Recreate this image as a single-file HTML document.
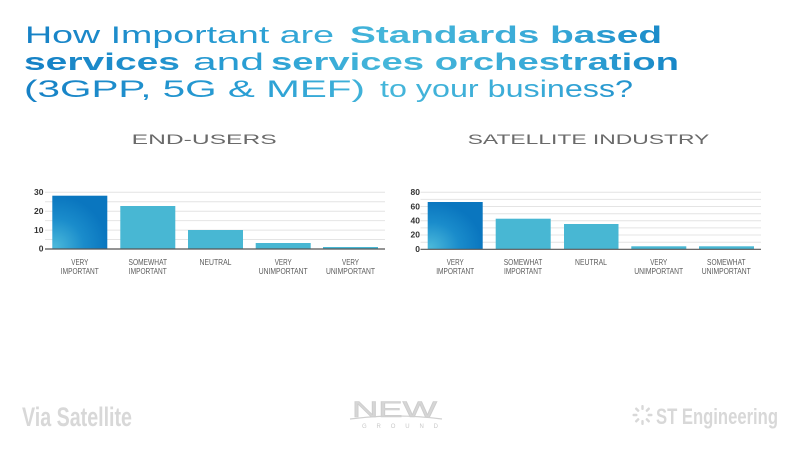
<!DOCTYPE html>
<html>
<head>
<meta charset="utf-8">
<style>
  html, body { margin: 0; padding: 0; background: #ffffff; }
  body { width: 800px; height: 451px; overflow: hidden; }
  svg { display: block; }
  .t { font-family: "Liberation Sans", sans-serif; }
  .n { font-family: "Liberation Sans Narrow", "Liberation Sans", sans-serif; }
</style>
</head>
<body>
<svg width="800" height="451" viewBox="0 0 800 451" xmlns="http://www.w3.org/2000/svg">
  <defs>
    <linearGradient id="tg" gradientUnits="userSpaceOnUse" x1="20" y1="0" x2="685" y2="0">
      <stop offset="0" stop-color="#1580c5"/>
      <stop offset="0.35" stop-color="#2a9fd4"/>
      <stop offset="0.55" stop-color="#45b6da"/>
      <stop offset="0.8" stop-color="#38a9d7"/>
      <stop offset="1" stop-color="#1484c6"/>
    </linearGradient>
    <radialGradient id="bg1" cx="0.05" cy="0.95" r="0.95" fx="0.05" fy="0.95">
      <stop offset="0" stop-color="#4ab8da"/>
      <stop offset="0.55" stop-color="#1a8ccb"/>
      <stop offset="1" stop-color="#0a76bf"/>
    </radialGradient>
  </defs>

  <!-- Title -->
  <g class="t" font-size="24.5" fill="url(#tg)">
    <text x="25" y="43" textLength="309" lengthAdjust="spacingAndGlyphs">How Important are</text>
    <text x="350" y="43" font-weight="bold" textLength="312" lengthAdjust="spacingAndGlyphs">Standards based</text>
    <text x="24" y="70" font-weight="bold" textLength="156" lengthAdjust="spacingAndGlyphs">services</text>
    <text x="193" y="70" textLength="71" lengthAdjust="spacingAndGlyphs">and</text>
    <text x="271" y="70" font-weight="bold" textLength="408" lengthAdjust="spacingAndGlyphs">services orchestration</text>
    <text x="24" y="97" textLength="341" lengthAdjust="spacingAndGlyphs">(3GPP, 5G &amp; MEF)</text>
    <text x="380" y="97" textLength="253" lengthAdjust="spacingAndGlyphs">to your business?</text>
  </g>

  <!-- Subtitles -->
  <g class="t" font-size="14" fill="#6a6a6a">
    <text x="131.7" y="144" textLength="145" lengthAdjust="spacingAndGlyphs">END-USERS</text>
    <text x="467.7" y="144" textLength="241.6" lengthAdjust="spacingAndGlyphs">SATELLITE INDUSTRY</text>
  </g>

  <!-- Left chart gridlines -->
  <g stroke="#e4e4e4" stroke-width="1">
    <line x1="45" y1="192.3" x2="385" y2="192.3"/>
    <line x1="45" y1="201.75" x2="385" y2="201.75"/>
    <line x1="45" y1="211.2" x2="385" y2="211.2"/>
    <line x1="45" y1="220.65" x2="385" y2="220.65"/>
    <line x1="45" y1="230.1" x2="385" y2="230.1"/>
    <line x1="45" y1="239.55" x2="385" y2="239.55"/>
  </g>
  <!-- Left bars -->
  <rect x="52.3" y="195.7" width="55" height="53.3" fill="url(#bg1)"/>
  <rect x="120.3" y="206" width="55" height="43" fill="#48b7d3"/>
  <rect x="188" y="230" width="55" height="19" fill="#48b7d3"/>
  <rect x="255.7" y="243" width="55" height="6" fill="#48b7d3"/>
  <rect x="323" y="247" width="55" height="2" fill="#48b7d3"/>
  <line x1="45" y1="249" x2="385" y2="249" stroke="#555" stroke-width="1.2"/>
  <!-- Left ticks -->
  <g class="t" font-size="8.5" font-weight="bold" fill="#333" text-anchor="end">
    <text x="43.5" y="195">30</text>
    <text x="43.5" y="214">20</text>
    <text x="43.5" y="233">10</text>
    <text x="43.5" y="251.5">0</text>
  </g>
  <!-- Left category labels -->
  <g class="n" font-size="8" fill="#5a5a5a" text-anchor="middle">
    <text x="79.8" y="265" textLength="17" lengthAdjust="spacingAndGlyphs">VERY</text>
    <text x="79.8" y="274" textLength="38" lengthAdjust="spacingAndGlyphs">IMPORTANT</text>
    <text x="147.8" y="265" textLength="38.5" lengthAdjust="spacingAndGlyphs">SOMEWHAT</text>
    <text x="147.8" y="274" textLength="38" lengthAdjust="spacingAndGlyphs">IMPORTANT</text>
    <text x="215.5" y="265" textLength="32" lengthAdjust="spacingAndGlyphs">NEUTRAL</text>
    <text x="283.2" y="265" textLength="17" lengthAdjust="spacingAndGlyphs">VERY</text>
    <text x="283.2" y="274" textLength="49" lengthAdjust="spacingAndGlyphs">UNIMPORTANT</text>
    <text x="350.5" y="265" textLength="17" lengthAdjust="spacingAndGlyphs">VERY</text>
    <text x="350.5" y="274" textLength="49" lengthAdjust="spacingAndGlyphs">UNIMPORTANT</text>
  </g>

  <!-- Right chart gridlines -->
  <g stroke="#e4e4e4" stroke-width="1">
    <line x1="420.5" y1="192.3" x2="761" y2="192.3"/>
    <line x1="420.5" y1="199.4" x2="761" y2="199.4"/>
    <line x1="420.5" y1="206.55" x2="761" y2="206.55"/>
    <line x1="420.5" y1="213.7" x2="761" y2="213.7"/>
    <line x1="420.5" y1="220.8" x2="761" y2="220.8"/>
    <line x1="420.5" y1="227.9" x2="761" y2="227.9"/>
    <line x1="420.5" y1="235.05" x2="761" y2="235.05"/>
    <line x1="420.5" y1="242.2" x2="761" y2="242.2"/>
  </g>
  <!-- Right bars -->
  <rect x="427.7" y="202" width="55" height="47.3" fill="url(#bg1)"/>
  <rect x="495.7" y="218.7" width="55" height="30.6" fill="#48b7d3"/>
  <rect x="564" y="224" width="54.5" height="25.3" fill="#48b7d3"/>
  <rect x="631.3" y="246.3" width="55" height="3" fill="#48b7d3"/>
  <rect x="699" y="246.3" width="55" height="3" fill="#48b7d3"/>
  <line x1="420.5" y1="249.3" x2="761" y2="249.3" stroke="#555" stroke-width="1.2"/>
  <!-- Right ticks -->
  <g class="t" font-size="8.5" font-weight="bold" fill="#333" text-anchor="end">
    <text x="420" y="195">80</text>
    <text x="420" y="209.3">60</text>
    <text x="420" y="223.5">40</text>
    <text x="420" y="237.7">20</text>
    <text x="420" y="251.8">0</text>
  </g>
  <!-- Right category labels -->
  <g class="n" font-size="8" fill="#5a5a5a" text-anchor="middle">
    <text x="455.2" y="265" textLength="17" lengthAdjust="spacingAndGlyphs">VERY</text>
    <text x="455.2" y="274" textLength="38" lengthAdjust="spacingAndGlyphs">IMPORTANT</text>
    <text x="523" y="265" textLength="38.5" lengthAdjust="spacingAndGlyphs">SOMEWHAT</text>
    <text x="523" y="274" textLength="38" lengthAdjust="spacingAndGlyphs">IMPORTANT</text>
    <text x="591" y="265" textLength="32" lengthAdjust="spacingAndGlyphs">NEUTRAL</text>
    <text x="658.7" y="265" textLength="17" lengthAdjust="spacingAndGlyphs">VERY</text>
    <text x="658.7" y="274" textLength="49" lengthAdjust="spacingAndGlyphs">UNIMPORTANT</text>
    <text x="726.3" y="265" textLength="38.5" lengthAdjust="spacingAndGlyphs">SOMEWHAT</text>
    <text x="726.3" y="274" textLength="49" lengthAdjust="spacingAndGlyphs">UNIMPORTANT</text>
  </g>

  <!-- Footer logos -->
  <text class="n" x="22" y="426" font-size="27" font-weight="bold" fill="#d8d8d8" textLength="110" lengthAdjust="spacingAndGlyphs">Via Satellite</text>

  <g>
    <text class="t" x="352" y="417" font-size="22" fill="#d6d6d6" stroke="#cdcdcd" stroke-width="0.6" textLength="85" lengthAdjust="spacingAndGlyphs">NEW</text>
    <path d="M350 419 Q396 413 442 419" fill="none" stroke="#cfcfcf" stroke-width="1.2"/>
    <text class="t" x="362" y="428" font-size="6" fill="#c9c9c9" textLength="76" lengthAdjust="spacing">GROUND</text>
  </g>

  <g fill="#d8d8d8">
    <g transform="translate(642.5,415)">
      <rect x="-1.2" y="-10" width="2.4" height="5" rx="1"/>
      <rect x="-1.2" y="5" width="2.4" height="5" rx="1"/>
      <rect x="-1.2" y="-10" width="2.4" height="5" rx="1" transform="rotate(45)"/>
      <rect x="-1.2" y="5" width="2.4" height="5" rx="1" transform="rotate(45)"/>
      <rect x="-1.2" y="-10" width="2.4" height="5" rx="1" transform="rotate(90)"/>
      <rect x="-1.2" y="5" width="2.4" height="5" rx="1" transform="rotate(90)"/>
      <rect x="-1.2" y="-10" width="2.4" height="5" rx="1" transform="rotate(135)"/>
      <rect x="-1.2" y="5" width="2.4" height="5" rx="1" transform="rotate(135)"/>
    </g>
    <text class="n" x="656" y="424" font-size="22" font-weight="bold" textLength="122" lengthAdjust="spacingAndGlyphs">ST Engineering</text>
  </g>
</svg>
</body>
</html>
